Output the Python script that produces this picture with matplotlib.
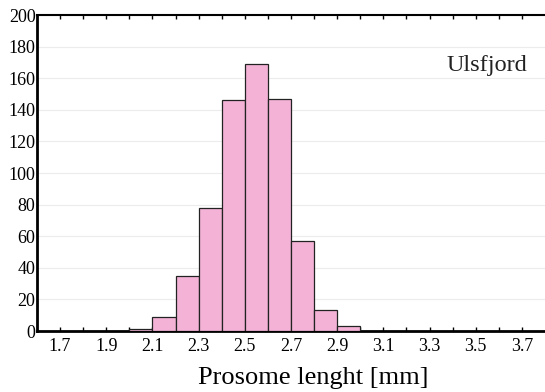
import matplotlib
matplotlib.use("Agg")
import matplotlib.pyplot as plt
import numpy as np

plt.rcParams['font.family'] = ['Liberation Serif', 'DejaVu Serif']

# histogram bins (left edges, mm) and counts
bin_left = [2.0, 2.1, 2.2, 2.3, 2.4, 2.5, 2.6, 2.7, 2.8, 2.9]
counts = [1, 9, 35, 78, 146, 169, 147, 57, 13, 3]
bin_width = 0.1
xticks = [1.7, 1.9, 2.1, 2.3, 2.5, 2.7, 2.9, 3.1, 3.3, 3.5, 3.7]
yticks = [0, 20, 40, 60, 80, 100, 120, 140, 160, 180, 200]

fig = plt.figure(figsize=(5.45, 3.92), dpi=100)
ax = fig.add_axes([37 / 545, 1 - 331 / 392, 1 - 37 / 545, (331 - 15) / 392])

ax.bar(bin_left, counts, width=bin_width, align="edge", color="#f4b3d6",
       edgecolor="#222222", linewidth=0.9, zorder=3)

ax.set_xlim(1.6, 3.8)
ax.set_ylim(0, 200)
ax.set_xticks(xticks)
ax.set_xticklabels([f"{t:.1f}" for t in xticks])
ax.set_xticks(np.arange(1.8, 3.8, 0.2), minor=True)
ax.set_yticks(yticks)
ax.yaxis.grid(True, color="#ececec", linewidth=0.8, zorder=0)

ax.tick_params(axis="x", which="both", direction="in", top=True, labelsize=13,
               length=3, width=1, pad=5)
ax.tick_params(axis="y", length=0, labelsize=13, pad=1)
ax.spines["right"].set_visible(False)
ax.spines["top"].set_linewidth(1.5)
ax.spines["bottom"].set_linewidth(2)
ax.spines["left"].set_linewidth(2)

ax.text(0.965, 0.84, "Ulsfjord", transform=ax.transAxes, ha="right",
        va="center", fontsize=17.5, color="#222222")
ax.set_xlabel("Prosome lenght [mm]", fontsize=19)
ax.xaxis.set_label_coords(0.544, -0.115)

fig.savefig("out.png", dpi=100)
